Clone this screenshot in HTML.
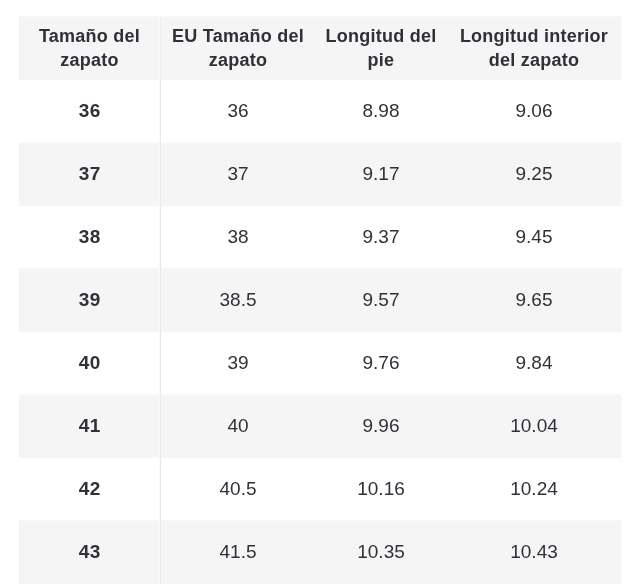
<!DOCTYPE html>
<html lang="es">
<head>
<meta charset="utf-8">
<title>Tabla de tallas</title>
<style>
html,body{margin:0;padding:0;background:#fff;}
body{width:640px;height:586px;overflow:hidden;position:relative;font-family:"Liberation Sans",sans-serif;color:#303138;}
table{position:absolute;left:19px;top:17px;width:602px;border-collapse:separate;border-spacing:0;table-layout:fixed;}
col.c1{width:142px}col.c2{width:154px}col.c3{width:132px}col.c4{width:174px}
th,td{padding:0;text-align:center;vertical-align:middle;font-size:18px;line-height:24px;letter-spacing:0.25px;}
thead th{height:61px;padding-bottom:2px;background:#f5f5f5;font-weight:bold;box-shadow:0 -1px 0 #f9f9f9;}
thead th:first-child{border-right:1px solid #eeeeee;box-shadow:0 -1px 0 #f9f9f9, inset -1px 0 0 #f9f9f9;}
tbody td{height:61px;padding-bottom:2px;font-weight:normal;font-size:19px;letter-spacing:0;}
tbody td:first-child{font-weight:bold;font-size:19px;letter-spacing:0.5px;padding-left:.5px;border-right:1px solid #e8e8e8;box-shadow:inset -1px 0 0 #f9f9f9;}
tbody tr:nth-child(even) td{background:#f5f5f5;}
tbody tr:nth-child(odd) td{background:linear-gradient(180deg,#fff 0,#fff 62px,#f9f9f9 62px,#f9f9f9 63px);}
tbody tr:nth-child(even) td:first-child{border-right-color:#ebebeb;box-shadow:inset -1px 0 0 #f9f9f9;}
.edge{position:absolute;left:621px;top:16px;width:1px;height:568px;
 background:repeating-linear-gradient(180deg,#fafafa 0,#fafafa 64px,#fff 64px,#fff 126px);}
</style>
</head>
<body>
<table>
<colgroup><col class="c1"><col class="c2"><col class="c3"><col class="c4"></colgroup>
<thead>
<tr><th>Tamaño del<br>zapato</th><th>EU Tamaño del<br>zapato</th><th>Longitud del<br>pie</th><th>Longitud interior<br>del zapato</th></tr>
</thead>
<tbody>
<tr><td>36</td><td>36</td><td>8.98</td><td>9.06</td></tr>
<tr><td>37</td><td>37</td><td>9.17</td><td>9.25</td></tr>
<tr><td>38</td><td>38</td><td>9.37</td><td>9.45</td></tr>
<tr><td>39</td><td>38.5</td><td>9.57</td><td>9.65</td></tr>
<tr><td>40</td><td>39</td><td>9.76</td><td>9.84</td></tr>
<tr><td>41</td><td>40</td><td>9.96</td><td>10.04</td></tr>
<tr><td>42</td><td>40.5</td><td>10.16</td><td>10.24</td></tr>
<tr><td>43</td><td>41.5</td><td>10.35</td><td>10.43</td></tr>
</tbody>
</table>
<div class="edge"></div>
</body>
</html>
